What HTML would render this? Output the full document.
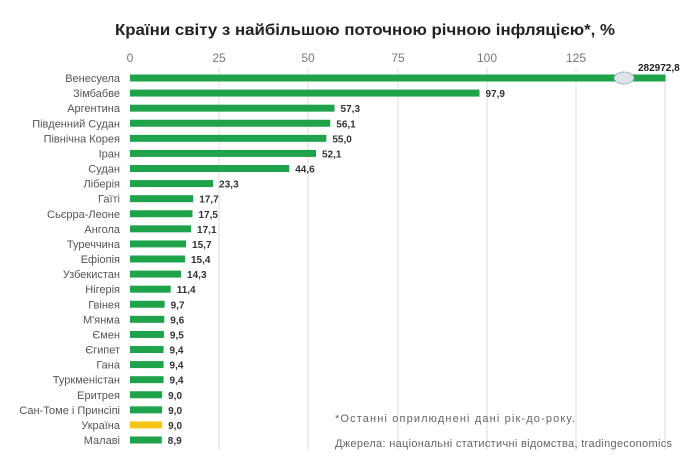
<!DOCTYPE html><html><head><meta charset="utf-8"><style>
body{margin:0;background:#fff;font-family:"Liberation Sans",sans-serif}
#c{position:relative;width:700px;height:470px;overflow:hidden}
</style></head><body><div id="c">
<svg width="700" height="470" style="position:absolute;left:0;top:0" font-family="Liberation Sans, sans-serif">
<text x="115" y="35" font-size="16" font-weight="bold" fill="#222" textLength="500" lengthAdjust="spacingAndGlyphs">Країни світу з найбільшою поточною річною інфляцією*, %</text>
<g stroke="#ddd" stroke-width="1">
<line x1="219" y1="68" x2="219" y2="450"/><line x1="308" y1="68" x2="308" y2="450"/><line x1="398" y1="68" x2="398" y2="450"/><line x1="487" y1="68" x2="487" y2="450"/><line x1="576" y1="68" x2="576" y2="450"/><line x1="665" y1="68" x2="665" y2="450"/>
</g>
<g font-size="12" fill="#777" text-anchor="middle">
<text x="130" y="62">0</text><text x="219" y="62">25</text><text x="308" y="62">50</text><text x="398" y="62">75</text><text x="487" y="62">100</text><text x="576" y="62">125</text>
</g>
<g id="bars"></g>
<ellipse cx="624" cy="78" rx="10" ry="6" fill="#dde3ea" stroke="#8899aa" stroke-dasharray="2,1"/>
<text x="638" y="71" font-size="10" font-weight="bold" fill="#222">282972,8</text>
<text x="335" y="422" font-size="11" fill="#666" textLength="240" lengthAdjust="spacing">*Останні оприлюднені дані рік-до-року.</text>
<text x="335" y="447" font-size="11" fill="#666" textLength="337" lengthAdjust="spacing">Джерела: національні статистичні відомства, tradingeconomics</text>
</svg>
<script>
var rows=[["Венесуела",150,""],["Зімбабве",97.9],["Аргентина",57.3],["Південний  Судан",56.1],["Північна Корея",55.0],["Іран",52.1],["Судан",44.6],["Ліберія",23.3],["Гаїті",17.7],["Сьєрра-Леоне",17.5],["Ангола",17.1],["Туреччина",15.7],["Ефіопія",15.4],["Узбекистан",14.3],["Нігерія",11.4],["Гвінея",9.7],["М'янма",9.6],["Ємен",9.5],["Єгипет",9.4],["Гана",9.4],["Туркменістан",9.4],["Еритрея",9.0],["Сан-Томе і Принсіпі",9.0],["Україна",9.0],["Малаві",8.9]];
var s="",n=rows.length,step=(440-78)/(n-1);
rows.forEach(function(r,i){var y=78+i*step,w=r[1]*3.57;
s+='<text x="120" y="'+(y+4)+'" text-anchor="end" font-size="11" fill="#555">'+r[0]+'</text>';
s+='<rect x="130" y="'+(y-3.5)+'" width="'+w+'" height="7" fill="'+(r[0]=="Україна"?"#f5c518":"#1fa34a")+'"/>';
if(r[2]===undefined)s+='<text x="'+(130+w+6)+'" y="'+(y+4)+'" font-size="10" font-weight="bold" fill="#333">'+r[1].toFixed(1).replace(".",",")+'</text>';});
document.getElementById("bars").innerHTML=s;
</script>
</div></body></html>
